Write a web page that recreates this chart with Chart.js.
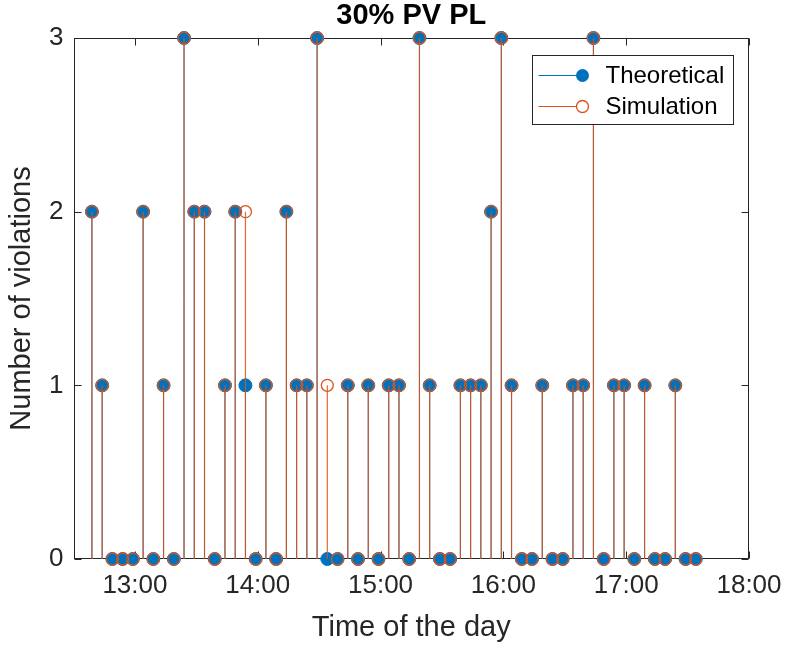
<!DOCTYPE html>
<html>
<head>
<meta charset="utf-8">
<script src="https://cdn.jsdelivr.net/npm/chart.js@4"></script>
<style>
  html, body { margin: 0; padding: 0; background: #fff; }
  #wrap { width: 786px; height: 647px; position: relative; }
</style>
</head>
<body>
<div id="wrap"><canvas id="c" width="786" height="647"></canvas></div>
<script>
// ---- data ----
const times = ["12:39","12:44","12:49","12:54","12:59","13:04","13:09","13:14","13:19","13:24",
               "13:29","13:34","13:39","13:44","13:49","13:54","13:59","14:04","14:09","14:14",
               "14:19","14:24","14:29","14:34","14:39","14:44","14:49","14:54","14:59","15:04",
               "15:09","15:14","15:19","15:24","15:29","15:34","15:39","15:44","15:49","15:54",
               "15:59","16:04","16:09","16:14","16:19","16:24","16:29","16:34","16:39","16:44",
               "16:49","16:54","16:59","17:04","17:09","17:14","17:19","17:24","17:29","17:34"];
const theoretical = [2,1,0,0,0,2,0,1,0,3, 2,2,0,1,2,1,0,1,0,2, 1,1,3,0,0,1,0,1,0,1,
                     1,0,3,1,0,0,1,1,1,2, 3,1,0,0,1,0,0,1,1,3, 0,1,1,0,1,0,0,1,0,0];
const simulation  = [2,1,0,0,0,2,0,1,0,3, 2,2,0,1,2,2,0,1,0,2, 1,1,3,1,0,1,0,1,0,1,
                     1,0,3,1,0,0,1,1,1,2, 3,1,0,0,1,0,0,1,1,3, 0,1,1,0,1,0,0,1,0,0];
const xTickLabels = ["13:00","14:00","15:00","16:00","17:00","18:00"];
const yTickValues = [0,1,2,3];
const xRange = ["12:30","18:00"];
const seriesNames = ["Theoretical","Simulation"];
const titleText = "30% PV PL";

const toMin = s => { const [h,m] = s.split(":").map(Number); return h*60+m; };
const fmt = v => { const h = Math.floor(v/60), m = Math.round(v%60); return h + ":" + String(m).padStart(2,"0"); };

const xs = times.map(toMin);
const stems = vals => {
  const out = [];
  vals.forEach((v,i) => { out.push({x: xs[i], y: 0}, {x: xs[i], y: v}, {x: xs[i], y: null}); });
  return out;
};
const pts = vals => vals.map((v,i) => ({x: xs[i], y: v}));

const BLUE = "#0072BD", ORANGE = "#D95319", AX = "#262626";
const FONT = "'Liberation Sans', Arial, Helvetica, sans-serif";

const boxPlugin = {
  id: "box",
  beforeDatasetsDraw(chart) {
    const {ctx, chartArea: a, scales: {x, y}} = chart;
    const L = Math.round(a.left) + 0.5, R = Math.round(a.right) - 0.5;
    const T = Math.round(a.top) + 0.5, B = Math.round(a.bottom) - 0.5;
    ctx.save();
    ctx.strokeStyle = AX; ctx.lineWidth = 1;
    ctx.strokeRect(L, T, R - L, B - T);
    const tl = 7;
    ctx.beginPath();
    x.ticks.forEach(t => {
      const px = Math.round(x.getPixelForValue(t.value)) + 0.5;
      ctx.moveTo(px, B); ctx.lineTo(px, B - tl);
      ctx.moveTo(px, T); ctx.lineTo(px, T + tl);
    });
    y.ticks.forEach(t => {
      const py = Math.round(y.getPixelForValue(t.value)) + 0.5;
      ctx.moveTo(L, py); ctx.lineTo(L + tl, py);
      ctx.moveTo(R, py); ctx.lineTo(R - tl, py);
    });
    ctx.stroke();
    // title centred over the axes
    ctx.fillStyle = "#000";
    ctx.font = "bold 29px " + FONT;
    ctx.textAlign = "center";
    ctx.textBaseline = "middle";
    ctx.fillText(titleText, (a.left + a.right) / 2, 16);
    ctx.restore();
  },
  afterDraw(chart) {
    const {ctx, chartArea: a} = chart;
    // legend box (top-right, inside axes)
    const bx = Math.round(a.right) - 216.5, by = Math.round(a.top) + 17.5, bw = 201, bh = 69;
    ctx.save();
    ctx.fillStyle = "#fff";
    ctx.fillRect(bx, by, bw, bh);
    ctx.strokeStyle = AX; ctx.lineWidth = 1;
    ctx.strokeRect(bx, by, bw, bh);
    const rows = [by + 20, by + 51];
    // Theoretical
    ctx.strokeStyle = BLUE; ctx.lineWidth = 1;
    ctx.beginPath(); ctx.moveTo(bx + 6, rows[0]); ctx.lineTo(bx + 50, rows[0]); ctx.stroke();
    ctx.fillStyle = BLUE;
    ctx.beginPath(); ctx.arc(bx + 50, rows[0], 6.5, 0, Math.PI*2); ctx.fill();
    // Simulation
    ctx.strokeStyle = ORANGE;
    ctx.beginPath(); ctx.moveTo(bx + 6, rows[1]); ctx.lineTo(bx + 44, rows[1]); ctx.stroke();
    ctx.lineWidth = 1.3;
    ctx.beginPath(); ctx.arc(bx + 50, rows[1], 6, 0, Math.PI*2); ctx.stroke();
    ctx.fillStyle = "#000";
    ctx.font = "24px " + FONT;
    ctx.textBaseline = "middle";
    ctx.textAlign = "left";
    ctx.fillText(seriesNames[0], bx + 73, rows[0] + 1);
    ctx.fillText(seriesNames[1], bx + 73, rows[1] + 1);
    ctx.restore();
  }
};

new Chart(document.getElementById("c"), {
  data: {
    datasets: [
      { type: "line", data: stems(theoretical), borderColor: BLUE, borderWidth: 1,
        pointRadius: 0, spanGaps: false, clip: false, order: 4 },
      { type: "scatter", data: pts(theoretical), pointRadius: 6.5, pointBackgroundColor: BLUE,
        pointBorderColor: BLUE, pointBorderWidth: 1, clip: false, order: 3 },
      { type: "line", data: stems(simulation), borderColor: "rgba(217,83,25,0.85)", borderWidth: 1.2,
        pointRadius: 0, spanGaps: false, clip: false, order: 2 },
      { type: "scatter", data: pts(simulation), pointRadius: 6, pointBackgroundColor: "rgba(0,0,0,0)",
        pointBorderColor: ORANGE, pointBorderWidth: 1.3, clip: false, order: 1 }
    ]
  },
  options: {
    responsive: false,
    animation: false,
    devicePixelRatio: 1,
    layout: { padding: { left: 0, right: 37, top: 38, bottom: 0 } },
    plugins: {
      legend: { display: false },
      tooltip: { enabled: false },
      title: { display: false }
    },
    scales: {
      x: {
        type: "linear", min: toMin(xRange[0]), max: toMin(xRange[1]),
        afterBuildTicks: s => { s.ticks = xTickLabels.map(l => ({ value: toMin(l) })); },
        afterFit: s => { s.height = 88; s.paddingLeft = 0; s.paddingRight = 0; },
        grid: { display: false, drawTicks: false },
        border: { display: false },
        ticks: { color: AX, padding: 11, maxRotation: 0, autoSkip: false,
                 font: { family: FONT, size: 26 }, callback: v => fmt(v) },
        title: { display: true, text: "Time of the day", color: AX,
                 font: { family: FONT, size: 29, lineHeight: 1.2 }, padding: { top: 0, bottom: 2 } }
      },
      y: {
        type: "linear", min: 0, max: 3,
        afterBuildTicks: s => { s.ticks = yTickValues.map(v => ({ value: v })); },
        afterFit: s => { s.width = 73.5; s.paddingTop = 0; s.paddingBottom = 0; },
        grid: { display: false, drawTicks: false },
        border: { display: false },
        ticks: { color: AX, padding: 10, font: { family: FONT, size: 26 } },
        title: { display: true, text: "Number of violations", color: AX,
                 font: { family: FONT, size: 29, lineHeight: 1.2 }, padding: { top: 5, bottom: 0 } }
      }
    }
  },
  plugins: [boxPlugin]
});
</script>
</body>
</html>
